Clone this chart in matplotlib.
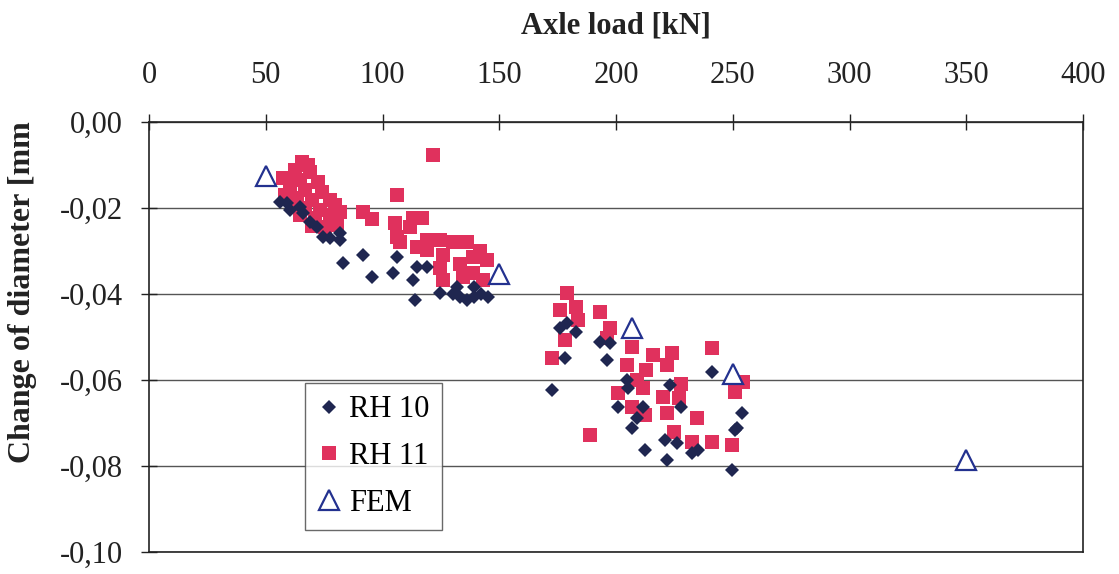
import matplotlib
matplotlib.use("Agg")
import matplotlib.pyplot as plt
from matplotlib.ticker import FuncFormatter, MultipleLocator

# RH 10 measurements (axle load kN, change of diameter mm)
rh10_load = [56, 59, 60.4, 64.7, 66, 69, 72, 74.5, 77.5, 81.8, 81.8,
             83, 91.6, 95.5, 104.5, 106, 113, 114, 114.8, 119, 124.6,
             130, 132, 133, 136, 139, 139, 142, 145,
             172.6, 176, 178, 179, 183, 193, 196, 197.4, 201, 204.7, 205,
             206.8, 209, 211.6, 212.4, 221, 222, 223, 226, 228, 232.5,
             235, 241, 249.7, 251, 251.8, 254]
rh10_dia = [-0.0186, -0.0188, -0.0205, -0.0198, -0.0212, -0.0233, -0.0244, -0.0267, -0.027, -0.0274, -0.0258,
            -0.0328, -0.031, -0.036, -0.035, -0.0314, -0.0367, -0.0414, -0.0337, -0.0337, -0.0398,
            -0.040, -0.0384, -0.0407, -0.0414, -0.0407, -0.0384, -0.040, -0.0407,
            -0.0623, -0.048, -0.0549, -0.0468, -0.0488, -0.0512, -0.0553, -0.0514, -0.0663, -0.060, -0.0619,
            -0.0712, -0.0688, -0.0663, -0.0763, -0.074, -0.0786, -0.0612, -0.0747, -0.0663, -0.077,
            -0.0763, -0.0581, -0.081, -0.0716, -0.0712, -0.0677]

# RH 11 measurements
rh11_load = [65.5, 62.5, 69, 57.4, 64.7, 72.4, 60.4, 66.8, 74.1, 58.2, 63.4,
             69.8, 77.5, 61.2, 66.8, 73.2, 79.7, 64.7, 71.1, 77.5, 69.8, 75.4,
             81.8, 80.5, 68, 60.4,
             91.6, 95.5, 105.4, 106.2, 106, 107.5, 111.8, 113, 117, 114.8, 119,
             119, 121.6, 124.6, 126, 124.6, 126, 130, 133, 134.5, 136, 138.8,
             138.8, 141.8, 143, 144.7,
             172.6, 176, 178, 179, 183, 183.7, 189, 193, 196, 197.4, 201,
             204.7, 207, 207, 209, 211.6, 212.4, 213, 216, 220, 221.8, 221.8,
             224, 225, 227, 228, 232.5, 234.7, 241, 241, 249.7, 251, 254.4]
rh11_dia = [-0.0093, -0.0112, -0.0116, -0.013, -0.0135, -0.014, -0.0153, -0.0158, -0.0163, -0.017, -0.0177,
            -0.0181, -0.0181, -0.0193, -0.020, -0.0205, -0.0193, -0.0216, -0.0223, -0.0216, -0.0242, -0.0244,
            -0.0209, -0.024, -0.010, -0.0135,
            -0.0209, -0.0226, -0.0235, -0.017, -0.0267, -0.028, -0.0244, -0.0223, -0.0223, -0.029, -0.0298,
            -0.0274, -0.0077, -0.0274, -0.031, -0.034, -0.0367, -0.028, -0.033, -0.036, -0.028, -0.035,
            -0.0314, -0.030, -0.0367, -0.032,
            -0.0549, -0.0437, -0.0507, -0.0398, -0.043, -0.046, -0.0728, -0.0442, -0.0502, -0.0479, -0.063,
            -0.0565, -0.0523, -0.0663, -0.060, -0.0619, -0.0681, -0.0577, -0.0542, -0.064, -0.0565, -0.0677,
            -0.0537, -0.0721, -0.0642, -0.061, -0.0744, -0.0688, -0.0526, -0.0744, -0.0751, -0.0628, -0.0605]

# FEM results
fem_load = [50, 150, 207, 250, 350]
fem_dia = [-0.0126, -0.0353, -0.048, -0.0586, -0.0786]

plt.rcParams['font.family'] = ['Liberation Serif', 'DejaVu Serif']

fig = plt.figure(figsize=(11.19, 5.74), dpi=100)
ax = fig.add_axes([149/1119, 1 - 552/574, 934/1119, 430/574])

ax.plot(rh10_load, rh10_dia, 'D', color='#1f2650', ms=7, mew=0, label='RH 10', zorder=3)
ax.plot(rh11_load, rh11_dia, 's', color='#e0315d', ms=9.5, mew=0, label='RH 11', zorder=2)
ax.plot(fem_load, fem_dia, '^', mfc='white', mec='#23318f', mew=1.6, ms=15, label='FEM', zorder=4)

ax.set_xlim(0, 400)
ax.set_ylim(-0.10, 0.0)
ax.xaxis.set_major_locator(MultipleLocator(50))
ax.yaxis.set_major_locator(MultipleLocator(0.02))
ax.yaxis.set_major_formatter(FuncFormatter(lambda v, p: ('%.2f' % v).replace('.', ',').replace('-0,00', '0,00')))

ax.xaxis.tick_top()
ax.xaxis.set_label_position('top')
ax.tick_params(axis='both', direction='inout', length=12, width=1, labelsize=22, colors='#222222')
ax.tick_params(axis='x', pad=17)
ax.tick_params(axis='y', pad=13)
ax.tick_params(axis='x', bottom=False)
ax.tick_params(axis='y', right=False)

ax.grid(axis='y', color='#555555', lw=1)
ax.set_axisbelow(True)
for s in ax.spines.values():
    s.set_color('#222222')
    s.set_linewidth(1.2)

ax.set_xlabel('Axle load [kN]', fontsize=22, fontweight='bold', labelpad=20, color='#222222')
fig.text(23/1119, 1 - 463/574, 'Change of diameter [mm', rotation=90, ha='center', va='bottom',
         fontsize=23, fontweight='bold', color='#222222')

leg = ax.legend(loc='upper left', bbox_to_anchor=((305-149)/934, (552-383)/430), fontsize=22,
                frameon=True, fancybox=False, edgecolor='#444444', handlelength=0.8,
                handletextpad=0.25, borderpad=0.4, labelspacing=0.58, borderaxespad=0)
leg.get_frame().set_linewidth(1)

plt.savefig("out.png", dpi=100)
